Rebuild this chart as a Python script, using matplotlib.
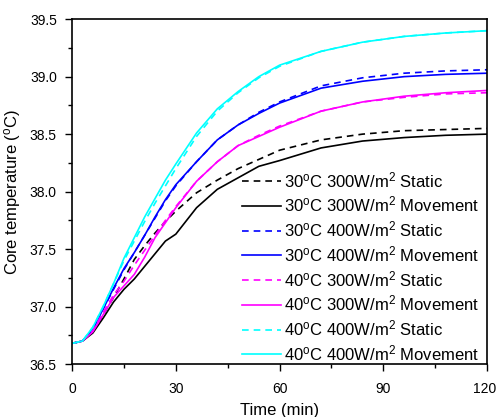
import matplotlib
matplotlib.use("Agg")
import matplotlib.pyplot as plt
from matplotlib.ticker import MultipleLocator, FuncFormatter

plt.rcParams['font.family'] = ['Liberation Sans', 'DejaVu Sans']
plt.rcParams['mathtext.fontset'] = 'custom'
plt.rcParams['mathtext.rm'] = 'Liberation Sans'
plt.rcParams['mathtext.it'] = 'Liberation Sans'

time = [0, 3, 6, 9, 12, 15, 18, 21, 24, 27, 30, 36, 42, 48, 54, 60, 72, 84, 96, 108, 120]

t30_300_static = [36.68, 36.70, 36.78, 36.93, 37.08, 37.24, 37.41, 37.53, 37.64, 37.74, 37.83, 37.99, 38.10, 38.20, 38.28, 38.36, 38.45, 38.50, 38.53, 38.54, 38.55]
t30_300_move = [36.68, 36.70, 36.77, 36.90, 37.04, 37.15, 37.24, 37.35, 37.46, 37.57, 37.63, 37.86, 38.02, 38.12, 38.22, 38.27, 38.38, 38.44, 38.47, 38.49, 38.50]
t30_400_static = [36.68, 36.70, 36.80, 36.98, 37.15, 37.32, 37.47, 37.62, 37.77, 37.92, 38.05, 38.26, 38.45, 38.58, 38.69, 38.78, 38.92, 38.99, 39.03, 39.05, 39.06]
t30_400_move = [36.68, 36.70, 36.80, 36.98, 37.16, 37.33, 37.47, 37.62, 37.78, 37.93, 38.06, 38.26, 38.45, 38.58, 38.68, 38.77, 38.90, 38.96, 39.00, 39.02, 39.03]
t40_300_static = [36.68, 36.70, 36.79, 36.95, 37.10, 37.22, 37.36, 37.49, 37.62, 37.75, 37.87, 38.09, 38.26, 38.40, 38.49, 38.57, 38.70, 38.78, 38.82, 38.85, 38.86]
t40_300_move = [36.68, 36.70, 36.78, 36.93, 37.08, 37.18, 37.28, 37.43, 37.60, 37.73, 37.86, 38.09, 38.26, 38.40, 38.48, 38.56, 38.70, 38.78, 38.83, 38.86, 38.88]
t40_400_static = [36.68, 36.70, 36.82, 37.00, 37.20, 37.40, 37.57, 37.74, 37.90, 38.05, 38.20, 38.48, 38.70, 38.86, 38.99, 39.09, 39.22, 39.30, 39.35, 39.38, 39.40]
t40_400_move = [36.68, 36.70, 36.82, 37.00, 37.20, 37.42, 37.60, 37.78, 37.94, 38.10, 38.24, 38.51, 38.72, 38.87, 39.00, 39.10, 39.22, 39.30, 39.35, 39.38, 39.40]

labels = [
    "30$^{\\rm o}$C 300W/m$^{2}$ Static",
    "30$^{\\rm o}$C 300W/m$^{2}$ Movement",
    "30$^{\\rm o}$C 400W/m$^{2}$ Static",
    "30$^{\\rm o}$C 400W/m$^{2}$ Movement",
    "40$^{\\rm o}$C 300W/m$^{2}$ Static",
    "40$^{\\rm o}$C 300W/m$^{2}$ Movement",
    "40$^{\\rm o}$C 400W/m$^{2}$ Static",
    "40$^{\\rm o}$C 400W/m$^{2}$ Movement",
]
series = [t30_300_static, t30_300_move, t30_400_static, t30_400_move,
          t40_300_static, t40_300_move, t40_400_static, t40_400_move]
colors = ['black', 'black', '#0000ff', '#0000ff', '#ff00ff', '#ff00ff', '#00ffff', '#00ffff']
styles = ['--', '-', '--', '-', '--', '-', '--', '-']

x_min, x_max = 0, 120

fig = plt.figure(figsize=(4.97, 4.17), dpi=100)
ax = fig.add_axes([0.145, 0.127, 0.835, 0.827])

for y, c, ls, lab in zip(series, colors, styles, labels):
    if ls == '--':
        ax.plot(time, y, color=c, ls=ls, lw=1.2, dashes=(4, 3), label=lab)
    else:
        ax.plot(time, y, color=c, ls=ls, lw=1.2, label=lab)

ax.set_xlim(x_min, x_max)
ax.set_ylim(36.5, 39.5)
ax.xaxis.set_major_locator(MultipleLocator(30))
ax.xaxis.set_minor_locator(MultipleLocator(15))
ax.yaxis.set_major_locator(MultipleLocator(0.5))
ax.yaxis.set_minor_locator(MultipleLocator(0.25))
# last x label drawn separately, slightly nudged so it stays inside the figure
ax.xaxis.set_major_formatter(FuncFormatter(lambda v, p: "" if v >= x_max else f"{v:g}"))
ax.tick_params(which='major', direction='out', length=5, width=1, labelsize=10)
ax.tick_params(axis='x', which='major', pad=8)
ax.tick_params(axis='y', which='major', pad=6)
ax.tick_params(which='minor', direction='out', length=3, width=1)
for s in ax.spines.values():
    s.set_linewidth(1.2)

ax.annotate(f"{x_max:g}", xy=(x_max, 0), xycoords=('data', 'axes fraction'),
            xytext=(-1.5, -13.2), textcoords='offset points',
            ha='center', va='top', fontsize=10)

ax.set_xlabel("Time (min)", fontsize=12, labelpad=5)
ax.set_ylabel("Core temperature ($^{\\rm o}$C)", fontsize=12, labelpad=5)

ax.legend(loc='lower right', frameon=False, fontsize=12, handlelength=2.35,
          handletextpad=0.2, labelspacing=0.29, borderaxespad=0.4,
          bbox_to_anchor=(1.014, -0.036))

fig.savefig("out.png", dpi=100)
